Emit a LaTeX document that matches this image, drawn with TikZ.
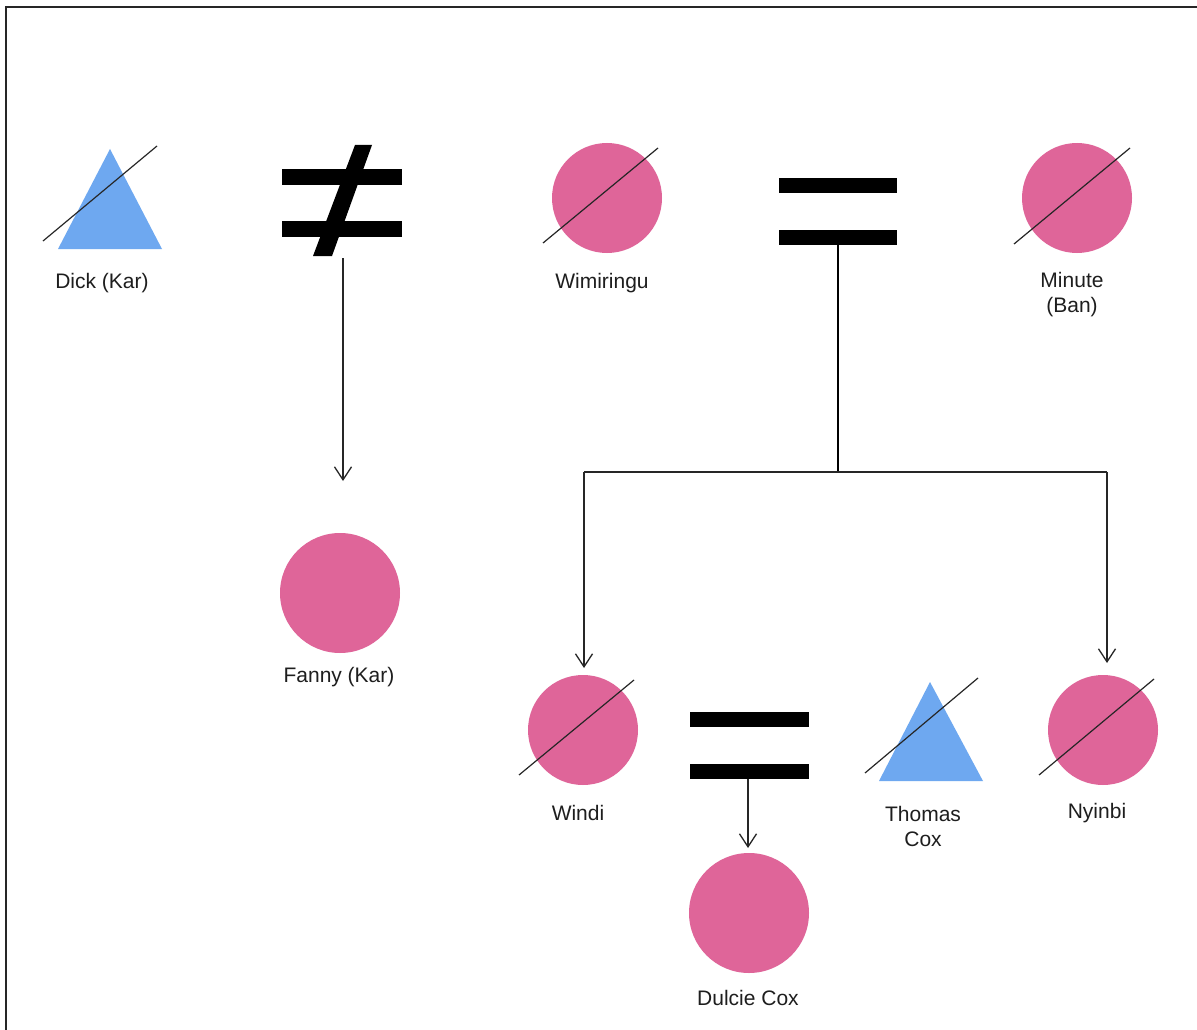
\documentclass[tikz,border=0pt]{standalone}
\usepackage{fontspec}
\setmainfont{Liberation Sans}
\usetikzlibrary{arrows.meta}
\definecolor{fpink}{RGB}{223,101,153}
\definecolor{mblue}{RGB}{110,168,240}
\definecolor{txt}{RGB}{30,30,30}
\begin{document}
\begin{tikzpicture}[x=1pt,y=-1pt,
  female/.style={circle,fill=fpink,draw=none,inner sep=0pt,minimum size=110pt},
  bigfemale/.style={circle,fill=fpink,draw=none,inner sep=0pt,minimum size=120pt},
  lbl/.style={font=\fontsize{21}{25}\selectfont,text=txt,align=center,inner sep=0pt},
  slash/.style={line width=1.2pt,black!85},
  arr/.style={line width=1.3pt,black!85,-{Straight Barb[length=13pt,width=17pt,line width=1.3pt]}},
  link/.style={line width=1.3pt,black!85},
  bar/.style={fill=black,draw=none}]
\useasboundingbox (0,0) rectangle (1197,1030);
\fill[white] (0,0) rectangle (1197,1030);
% frame (top and left)
\draw[line width=2pt,black!85] (6,1030) -- (6,7) -- (1197,7);

% Dick (Kar)
\coordinate (dick) at (110,200);
\fill[mblue] (110,149) -- (162,249) -- (58,249) -- cycle;
\draw[slash] (43,241) -- (157,146);
\node[lbl] (dickl) at (102,283) {Dick (Kar)};

% not-equal sign
\coordinate (ne) at (342,200);
\fill[bar] (282,169) rectangle (402,185);
\fill[bar] (282,221) rectangle (402,237);
\fill[black] (313,256) -- (332,256) -- (372,145) -- (355,145) -- cycle;
\coordinate (neb) at (343,258);

% Wimiringu
\node[female] (wim) at (607,198) {};
\draw[slash] (wim.center) ++(-64,45) -- ++(115,-95);
\node[lbl] (wiml) at (602,283) {Wimiringu};

% equals 1
\coordinate (eq1) at (838,211);
\fill[bar] (779,178) rectangle (897,193);
\fill[bar] (779,230) rectangle (897,245);
\coordinate (eq1b) at (838,245);
\coordinate (mid1) at (838,472);

% Minute (Ban)
\node[female] (min) at (1077,198) {};
\draw[slash] (min.center) ++(-63,46) -- ++(116,-96);
\node[lbl] (minl) at (1072,295) {Minute\\(Ban)};

% Fanny (Kar)
\node[bigfemale] (fanny) at (340,593) {};
\node[lbl] (fannyl) at (339,677) {Fanny (Kar)};

% Windi
\node[female] (windi) at (583,730) {};
\draw[slash] (windi.center) ++(-64,45) -- ++(115,-95);
\node[lbl] (windil) at (578,813) {Windi};

% equals 2
\coordinate (eq2) at (749,745);
\fill[bar] (690,712) rectangle (809,727);
\fill[bar] (690,764) rectangle (809,779);
\coordinate (eq2b) at (748,779);

% Thomas Cox
\coordinate (thomas) at (931,731);
\fill[mblue] (930,682) -- (983,781) -- (879,781) -- cycle;
\draw[slash] (865,773) -- (978,678);
\node[lbl] (thomasl) at (923,826) {Thomas\\Cox};

% Nyinbi
\node[female] (nyi) at (1103,730) {};
\draw[slash] (nyi.center) ++(-64,45) -- ++(115,-96);
\node[lbl] (nyil) at (1097,813) {Nyinbi};

% Dulcie Cox
\node[bigfemale] (dulcie) at (749,913) {};
\node[lbl] (dulciel) at (748,998) {Dulcie Cox};

% connectors
\coordinate (fannyarr) at (343,481);
\draw[arr] (neb) -- (fannyarr);
\draw[line width=2.6pt,black] (eq1b) -- (mid1);
\coordinate (windiarr) at (584,668);
\coordinate (nyiarr) at (1107,663);
\draw[link] (windiarr |- mid1) -- (nyiarr |- mid1);
\draw[arr] (windiarr |- mid1) -- (windiarr);
\draw[arr] (nyiarr |- mid1) -- (nyiarr);
\coordinate (dulciearr) at (748,848);
\draw[arr] (eq2b) -- (dulciearr);
\end{tikzpicture}
\end{document}
